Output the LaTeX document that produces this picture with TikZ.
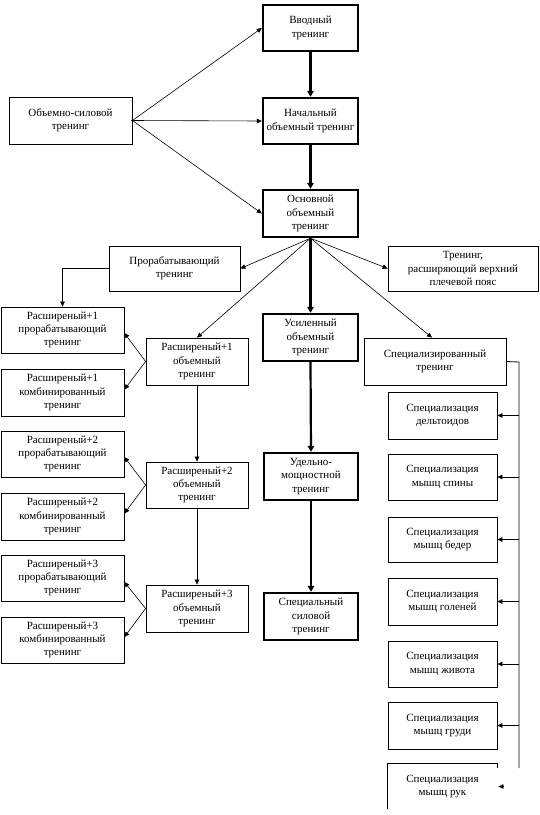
\documentclass[tikz,border=0pt]{standalone}
\usepackage{fontspec}
\setmainfont{Liberation Serif}
\usetikzlibrary{arrows.meta,calc}
\newcommand\bx[7]{\node[#2, minimum width={#5-#3}, minimum height={#6-#4}] (#1) at ({(#3+#5)/2},{(#4+#6)/2}) {#7};}
\begin{document}
\begin{tikzpicture}[x=1pt,y=-1pt,
 box/.style={draw, line width=0.8pt, align=center, inner sep=0pt, font=\fontsize{11}{13.3}\selectfont},
 tbox/.style={box, line width=2.4pt},
 nobox/.style={box, draw=none},
 arr/.style={line width=0.6pt, -{Triangle[length=5pt,width=4.5pt]}},
 tarr/.style={line width=2.2pt, -{Triangle[length=6pt,width=6.5pt]}},
 ln/.style={line width=0.8pt}]
\fill[white] (0,0) rectangle (540,815);
\useasboundingbox (0,0) rectangle (540,815);

\bx{vvod}{tbox}{263}{5}{358}{51}{Вводный\\тренинг}
\bx{nach}{tbox}{263}{98}{358}{144}{Начальный\\объемный тренинг}
\bx{obsil}{box}{9}{97}{132}{144}{Объемно-силовой\\тренинг}
\bx{osn}{tbox}{263}{190}{358}{237}{Основной\\объемный\\тренинг}
\bx{prorab}{box}{109}{246}{240}{291}{Прорабатывающий\\тренинг}
\bx{trenras}{box}{388}{246}{538}{291}{Тренинг,\\расширяющий верхний\\плечевой пояс}
\bx{usil}{tbox}{263}{314}{358}{361}{Усиленный\\объемный\\тренинг}
\bx{udel}{tbox}{264}{453}{358}{500}{Удельно-\\мощностной\\тренинг}
\bx{specsil}{tbox}{264}{593}{358}{640}{Специальный\\силовой\\тренинг}

\bx{rip}{box}{1}{307}{124}{353}{Расширеный+1\\прорабатывающий\\тренинг}
\bx{rik}{box}{1}{369}{124}{416}{Расширеный+1\\комбинированный\\тренинг}
\bx{rio}{box}{146}{338}{248}{385}{Расширеный+1\\объемный\\тренинг}
\bx{riip}{box}{1}{431}{124}{477}{Расширеный+2\\прорабатывающий\\тренинг}
\bx{riik}{box}{1}{493}{124}{540}{Расширеный+2\\комбинированный\\тренинг}
\bx{riio}{box}{146}{462}{248}{508}{Расширеный+2\\объемный\\тренинг}
\bx{riiip}{box}{1}{555}{124}{601}{Расширеный+3\\прорабатывающий\\тренинг}
\bx{riiik}{box}{1}{617}{124}{663}{Расширеный+3\\комбинированный\\тренинг}
\bx{riiio}{box}{146}{585}{248}{632}{Расширеный+3\\объемный\\тренинг}

\bx{spec}{box}{364}{338}{506}{385}{Специализированный\\тренинг}
\bx{sa}{box}{388}{392}{497}{439}{Специализация\\дельтоидов}
\bx{sb}{box}{388}{454}{497}{500}{Специализация\\мышц спины}
\bx{sc}{box}{388}{517}{497}{562}{Специализация\\мышц бедер}
\bx{sd}{box}{388}{578}{497}{625}{Специализация\\мышц голеней}
\bx{se}{box}{388}{641}{497}{687}{Специализация\\мышц живота}
\bx{sf}{box}{388}{702}{497}{749}{Специализация\\мышц груди}
\bx{sg}{nobox}{388}{764}{497}{809}{Специализация\\мышц рук}
\draw[ln] (sg.south west) -- (sg.north west) -- (sg.north east) -- ++(0,4);

% top fan
\draw[arr] (obsil.east) -- (vvod.west);
\draw[arr] (obsil.east) -- (nach.west);
\draw[arr] (obsil.east) -- (osn.west);
\fill (obsil.east) circle (1.2pt);

% thick spine
\draw[tarr] (vvod.south) -- (nach.north);
\draw[tarr] (nach.south) -- (osn.north);
\draw[tarr] (osn.south) -- (usil.north);
\draw[tarr] (usil.south) -- (udel.north);
\draw[tarr] (udel.south) -- (specsil.north);

% fan from Основной
\draw[arr] (osn.south) -- (prorab.east);
\draw[arr] (osn.south) -- (trenras.west);
\draw[arr] (osn.south) -- (rio.north);
\draw[arr] (osn.south) -- ([xshift=-3pt]spec.north);

% left column
\draw[arr] (prorab.west) -| (rip.north);
\draw[arr] (rio.south) -- (riio.north);
\draw[arr] (riio.south) -- (riiio.north);
\draw[arr] (rio.west) -- ([yshift=-3pt]rip.east);
\draw[arr] (rio.west) -- ([yshift=3pt]rik.east);
\draw[arr] (riio.west) -- ([yshift=-3pt]riip.east);
\draw[arr] (riio.west) -- ([yshift=3pt]riik.east);
\draw[arr] (riiio.west) -- ([yshift=-4pt]riiip.east);
\draw[arr] (riiio.west) -- ([yshift=3pt]riiik.east);

% right bus
\coordinate (bustop) at (519,362);
\coordinate (busbot) at (519,768);
\draw[ln] (spec.east) -- (bustop) -- (busbot);
\foreach \s in {sa,sb,sc,sd,se,sf}
  \draw[arr] (\s.east -| bustop) -- (\s.east);
\draw[arr] ([xshift=7pt]sg.east) -- ([xshift=1pt]sg.east);
\end{tikzpicture}
\end{document}
